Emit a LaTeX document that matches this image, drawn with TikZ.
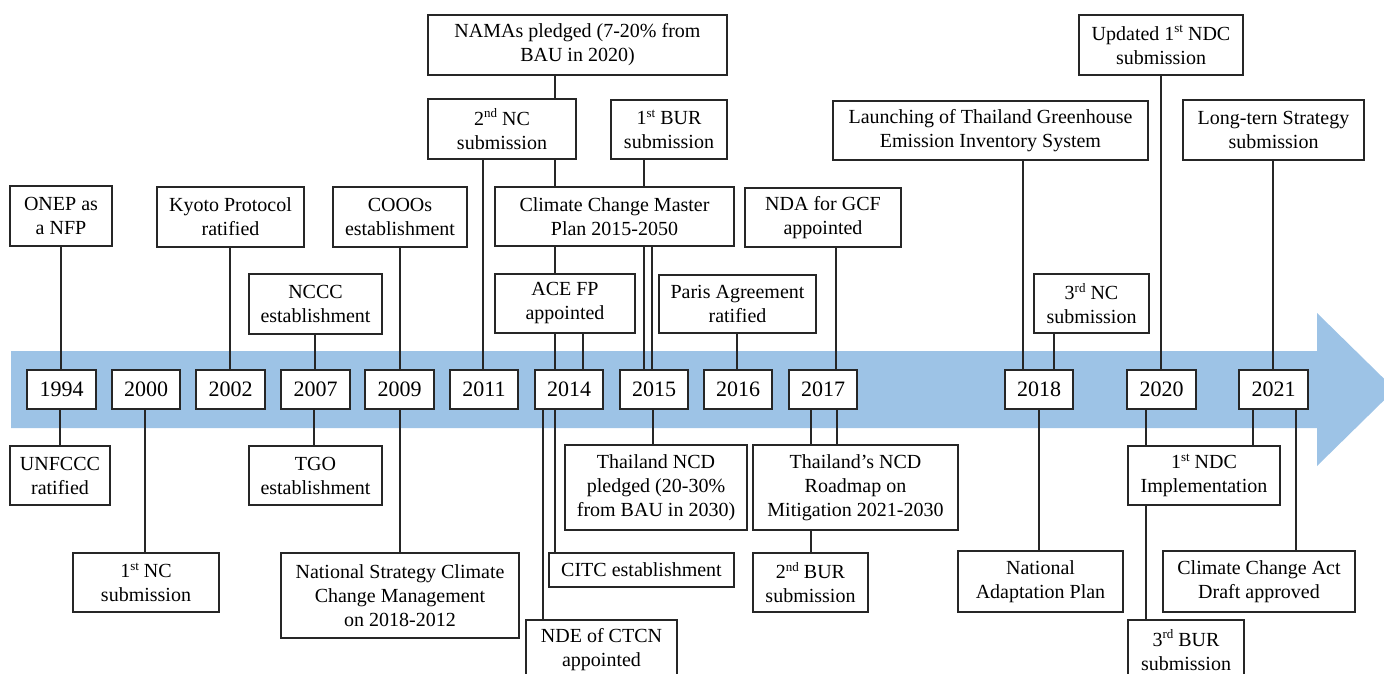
\documentclass[tikz,border=0pt]{standalone}
\usepackage{fontspec}
\setmainfont{Liberation Serif}
\definecolor{bandblue}{HTML}{9DC3E6}
\definecolor{ink}{HTML}{262626}
\tikzset{
  box/.style={draw=ink, line width=1.3pt, fill=white, inner sep=0pt, align=center,
    text=black, font=\fontsize{20}{24}\selectfont},
  yr/.style={box, font=\fontsize{22}{26}\selectfont},
  conn/.style={draw=ink, line width=1.3pt}
}
\newcommand\supx[1]{\raisebox{0.36em}{\fontsize{13}{13}\selectfont #1}}
\newcommand\tlbox[6]{\node[#1, minimum width={(#4-#2)*1pt}, minimum height={(#5-#3)*1pt}] (#6) at ({(#2+#4)/2},{(#3+#5)/2})}
\newcommand\vl[3]{\draw[conn] (#2.south -| #1,0) -- (#3.north -| #1,0);}
\begin{document}
\begin{tikzpicture}[x=1pt,y=-1pt]
\useasboundingbox (0,0) rectangle (1384,674);
\clip (0,0) rectangle (1384,674);
% band arrow
\fill[bandblue] (11,351) -- (1317,351) -- (1317,313) -- (1395,389.5) -- (1317,466) -- (1317,428) -- (11,428) -- cycle;

% year boxes
\tlbox{yr}{27}{370}{96}{409}{y1994}{1994};
\tlbox{yr}{112}{370}{180}{409}{y2000}{2000};
\tlbox{yr}{196}{370}{265}{409}{y2002}{2002};
\tlbox{yr}{281}{370}{350}{409}{y2007}{2007};
\tlbox{yr}{365}{370}{434}{409}{y2009}{2009};
\tlbox{yr}{450}{370}{518}{409}{y2011}{2011};
\tlbox{yr}{535}{370}{603}{409}{y2014}{2014};
\tlbox{yr}{620}{370}{688}{409}{y2015}{2015};
\tlbox{yr}{704}{370}{772}{409}{y2016}{2016};
\tlbox{yr}{789}{370}{857}{409}{y2017}{2017};
\tlbox{yr}{1005}{370}{1073}{409}{y2018}{2018};
\tlbox{yr}{1127}{370}{1196}{409}{y2020}{2020};
\tlbox{yr}{1239}{370}{1308}{409}{y2021}{2021};

% upper events
\tlbox{box}{10}{186}{112}{246}{onep}{ONEP as\\a NFP};
\tlbox{box}{157}{187}{304}{247}{kyoto}{Kyoto Protocol\\ratified};
\tlbox{box}{333}{187}{467}{247}{cooo}{COOOs\\establishment};
\tlbox{box}{249}{274}{382}{334}{nccc}{NCCC\\establishment};
\tlbox{box}{428}{15}{727}{75}{namas}{NAMAs pledged (7-20\% from\\BAU in 2020)};
\tlbox{box}{428}{99}{576}{159}{nctwo}{2\supx{nd} NC\\submission};
\tlbox{box}{611}{100}{727}{159}{burone}{1\supx{st} BUR\\submission};
\tlbox{box}{495}{187}{734}{246}{ccmp}{Climate Change Master\\Plan 2015-2050};
\tlbox{box}{495}{274}{635}{333}{ace}{ACE FP\\appointed};
\tlbox{box}{659}{275}{816}{333}{paris}{Paris Agreement\\ratified};
\tlbox{box}{745}{188}{901}{247}{nda}{NDA for GCF\\appointed};
\tlbox{box}{833}{101}{1148}{160}{launch}{Launching of Thailand Greenhouse\\Emission Inventory System};
\tlbox{box}{1079}{15}{1243}{75}{updated}{Updated 1\supx{st} NDC\\submission};
\tlbox{box}{1183}{100}{1364}{160}{lts}{Long-tern Strategy\\submission};
\tlbox{box}{1034}{274}{1149}{333}{ncthree}{3\supx{rd} NC\\submission};

% lower events
\tlbox{box}{10}{446}{110}{505}{unfccc}{UNFCCC\\ratified};
\tlbox{box}{73}{553}{219}{612}{ncone}{1\supx{st} NC\\submission};
\tlbox{box}{249}{446}{382}{505}{tgo}{TGO\\establishment};
\tlbox{box}{281}{553}{519}{638}{ns}{National Strategy Climate\\Change Management\\on 2018-2012};
\tlbox{box}{565}{445}{747}{530}{ncd}{Thailand NCD\\pledged (20-30\%\\from BAU in 2030)};
\tlbox{box}{549}{553}{734}{587}{citc}{CITC establishment};
\tlbox{box}{526}{620}{677}{680}{nde}{NDE of CTCN\\appointed};
\tlbox{box}{753}{445}{958}{530}{roadmap}{Thailand’s NCD\\Roadmap on\\Mitigation 2021-2030};
\tlbox{box}{753}{553}{868}{612}{burtwo}{2\supx{nd} BUR\\submission};
\tlbox{box}{958}{551}{1123}{612}{nap}{National\\Adaptation Plan};
\tlbox{box}{1128}{446}{1280}{505}{ndci}{1\supx{st} NDC\\Implementation};
\tlbox{box}{1163}{551}{1355}{612}{cca}{Climate Change Act\\Draft approved};
\tlbox{box}{1128}{620}{1244}{680}{burthree}{3\supx{rd} BUR\\submission};

% connectors above the band
\vl{61}{onep}{y1994}
\vl{230}{kyoto}{y2002}
\vl{315}{nccc}{y2007}
\vl{400}{cooo}{y2009}
\vl{555}{namas}{nctwo}
\vl{483}{nctwo}{y2011}
\vl{555}{nctwo}{ccmp}
\vl{644}{burone}{ccmp}
\vl{555}{ccmp}{ace}
\vl{644}{ccmp}{y2015}
\vl{652}{ccmp}{y2015}
\vl{555}{ace}{y2014}
\vl{583}{ace}{y2014}
\vl{737}{paris}{y2016}
\vl{836}{nda}{y2017}
\vl{1023}{launch}{y2018}
\vl{1054}{ncthree}{y2018}
\vl{1161}{updated}{y2020}
\vl{1273}{lts}{y2021}
% connectors below the band
\vl{60}{y1994}{unfccc}
\vl{145}{y2000}{ncone}
\vl{314}{y2007}{tgo}
\vl{400}{y2009}{ns}
\vl{543}{y2014}{nde}
\vl{555}{y2014}{citc}
\vl{653}{y2015}{ncd}
\vl{811}{y2017}{roadmap}
\vl{837}{y2017}{roadmap}
\vl{811}{roadmap}{burtwo}
\vl{1039}{y2018}{nap}
\vl{1146}{y2020}{ndci}
\vl{1253}{y2021}{ndci}
\vl{1296}{y2021}{cca}
\vl{1146}{ndci}{burthree}
\end{tikzpicture}
\end{document}
